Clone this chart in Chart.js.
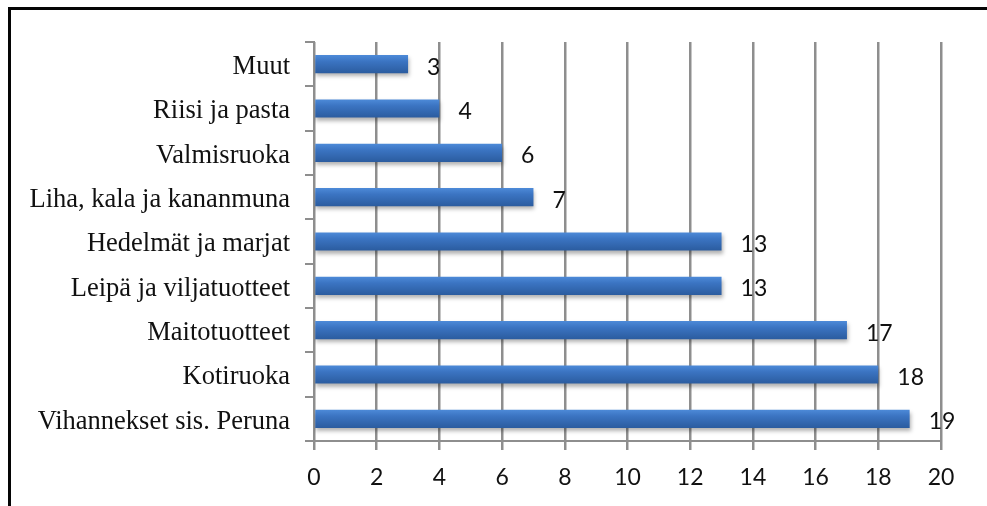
<!DOCTYPE html>
<html>
<head>
<meta charset="utf-8">
<script src="https://cdn.jsdelivr.net/npm/chart.js@4/dist/chart.umd.min.js"></script>
<style>
  html, body { margin: 0; padding: 0; background: #fff; }
  #wrap { position: relative; width: 987px; height: 506px; overflow: hidden; }
  canvas { position: absolute; left: 0; top: 0; }
  .frame-top { position: absolute; left: 8px; top: 7px; width: 990px; height: 3px; background: #050505; }
  .frame-left { position: absolute; left: 8px; top: 7px; width: 3px; height: 510px; background: #050505; }
</style>
</head>
<body>
<div id="wrap">
  <canvas id="chart" width="987" height="506"></canvas>
  <div class="frame-top"></div>
  <div class="frame-left"></div>
</div>
<script>
// food groups, top to bottom
const categories = [
    'Muut',
    'Riisi ja pasta',
    'Valmisruoka',
    'Liha, kala ja kananmuna',
    'Hedelmät ja marjat',
    'Leipä ja viljatuotteet',
    'Maitotuotteet',
    'Kotiruoka',
    'Vihannekset sis. Peruna'
];
const counts = [3, 4, 6, 7, 13, 13, 17, 18, 19];

// x axis range
const xMin = 0;
const xMax = 20;
const xStep = 2;

const gridGray = '#8e8e8e';
const sansFont = "Lato, 'Open Sans', sans-serif";
const serifFont = "'Liberation Serif', 'DejaVu Serif', serif";

// shaded bars with a soft drop shadow, then value labels after the bar ends
const barStyle = {
    id: 'barStyle',
    beforeDatasetsDraw(chart) {
        const ctx = chart.ctx;
        chart.getDatasetMeta(0).data.forEach(bar => {
            const h = bar.height;
            const g = ctx.createLinearGradient(0, bar.y - h / 2, 0, bar.y + h / 2);
            g.addColorStop(0, '#4d8ad8');
            g.addColorStop(0.35, '#3b74c2');
            g.addColorStop(1, '#2b5c9f');
            bar.options = Object.assign({}, bar.options, { backgroundColor: g });
        });
        ctx.save();
        ctx.shadowColor = 'rgba(0, 0, 0, 0.3)';
        ctx.shadowBlur = 4;
        ctx.shadowOffsetX = 1;
        ctx.shadowOffsetY = 3;
    },
    afterDatasetsDraw(chart) {
        const ctx = chart.ctx;
        ctx.restore();
        ctx.save();
        ctx.font = '23px ' + sansFont;
        ctx.fillStyle = '#111';
        ctx.textAlign = 'left';
        ctx.textBaseline = 'middle';
        chart.getDatasetMeta(0).data.forEach((bar, i) => {
            ctx.fillText(String(counts[i]), bar.x + 19, bar.y + 3);
        });
        ctx.restore();
    }
};

new Chart(document.getElementById('chart'), {
    type: 'bar',
    data: {
        labels: categories,
        datasets: [{
            data: counts,
            backgroundColor: '#3b74c2',
            borderWidth: 0,
            barPercentage: 0.41,
            categoryPercentage: 1
        }]
    },
    options: {
        indexAxis: 'y',
        responsive: false,
        animation: false,
        layout: { padding: { top: 42, right: 46, left: 0, bottom: 0 } },
        plugins: {
            legend: { display: false },
            tooltip: { enabled: false }
        },
        scales: {
            x: {
                min: xMin,
                max: xMax,
                ticks: {
                    stepSize: xStep,
                    color: '#111',
                    font: { family: sansFont, size: 23 },
                    padding: 14
                },
                grid: {
                    color: gridGray,
                    lineWidth: 2.5,
                    tickLength: 9,
                    tickColor: gridGray
                },
                border: { color: gridGray, width: 2 },
                afterFit(scale) { scale.height = 65; }
            },
            y: {
                offset: true,
                ticks: {
                    color: '#111',
                    font: { family: serifFont, size: 26.5 },
                    padding: 15,
                    labelOffset: 3
                },
                grid: {
                    offset: true,
                    drawOnChartArea: false,
                    tickLength: 9,
                    tickColor: gridGray,
                    lineWidth: 2
                },
                border: { color: gridGray, width: 2 },
                afterFit(scale) { scale.width = 314; }
            }
        }
    },
    plugins: [barStyle]
});
</script>
</body>
</html>
